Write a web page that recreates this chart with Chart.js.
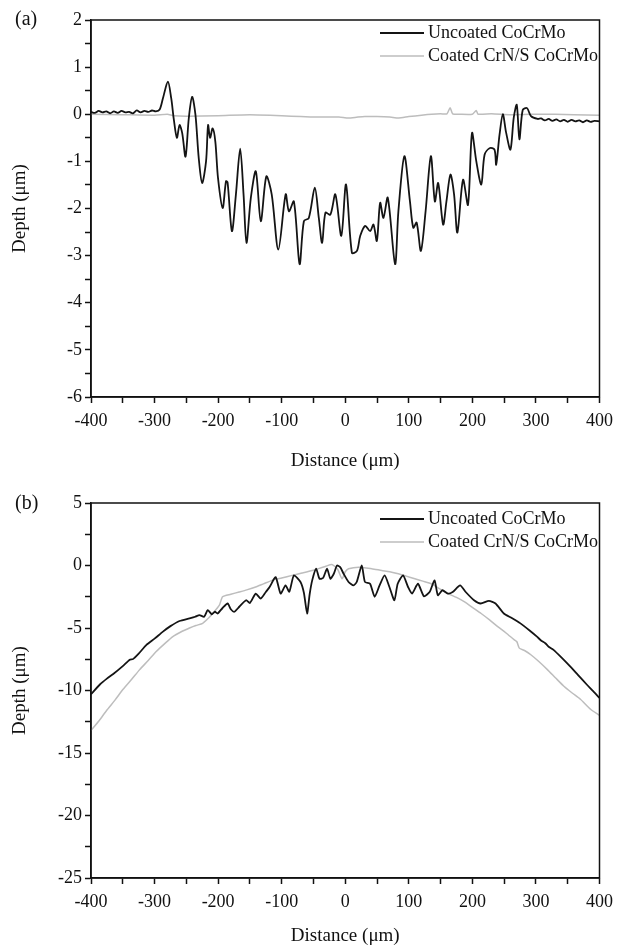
<!DOCTYPE html>
<html>
<head>
<meta charset="utf-8">
<script src="https://cdn.jsdelivr.net/npm/chart.js@4/dist/chart.umd.min.js"></script>
<style>
  body { margin: 0; background: #fff; }
  #wrap { position: relative; width: 620px; height: 947px; }
  canvas { position: absolute; left: 0; }
  .panel { position: absolute; left: 15px; font: 20px "Liberation Serif", serif; color: #111; line-height: 1; }
</style>
</head>
<body>
<div id="wrap">
  <canvas id="chartA" width="620" height="480" style="top:0"></canvas>
  <canvas id="chartB" width="620" height="467" style="top:480px"></canvas>
  <div class="panel" style="top:8px">(a)</div>
  <div class="panel" style="top:492px">(b)</div>
</div>
<script>
// Series labels
const seriesNames = ["Uncoated CoCrMo", "Coated CrN/S CoCrMo"];

// (a) uncoated profile
const aUncoatedX = [-400, -394, -388, -382, -376, -370, -364, -358, -352, -346, -340, -334, -328, -322, -316, -310, -304, -298, -292,
  -286.8, -279, -273.8, -269.6, -264.9, -260.7, -256.5, -251.3, -246.1, -240.9, -235.7, -230.5, -225.2, -219, -215.8, -212.7,
  -208.6, -204.4, -200.2, -192.9, -187.6, -185.1, -178.3, -172, -165.3, -160, -155.4, -148.5, -140.7, -132.9, -124.1, -115.7,
  -105.3, -93.7, -88.6, -80.8, -71.8, -65.1, -57.3, -47.9, -41.6, -36.4, -31.2, -23.4, -15.6, -6.2, 1.2, 10.5, 18.4, 23.6,
  31.4, 39.2, 44.4, 49.7, 54.9, 60.1, 66.9, 78.4, 83.6, 93, 101.8, 107, 112.3, 119, 126.4, 134.7, 141, 146.2, 154, 159.2,
  165.5, 171.2, 176.4, 185.3, 193.1, 199.4, 206.2, 214, 219.2, 227, 234.8, 237.4, 242.7, 247.9, 253.1, 259.9, 265.1, 269.8,
  274, 279.2, 286, 292.2, 302.7, 308, 314, 320, 326, 332, 338, 344, 350, 356, 362, 368, 374, 380, 386, 392, 400];
const aUncoatedY = [0.05, 0.03, 0.07, 0.04, 0.06, 0.02, 0.06, 0.03, 0.07, 0.04, 0.05, 0.02, 0.08, 0.04, 0.07, 0.05, 0.08, 0.06, 0.1,
  0.34, 0.69, 0.34, -0.12, -0.5, -0.23, -0.4, -0.9, -0.08, 0.37, -0.01, -0.93, -1.46, -1.0, -0.23, -0.5,
  -0.3, -0.58, -1.35, -1.99, -1.42, -1.45, -2.48, -1.7, -0.73, -1.7, -2.73, -1.77, -1.21, -2.27, -1.32, -1.7,
  -2.87, -1.7, -2.06, -1.85, -3.18, -2.27, -2.2, -1.56, -2.2, -2.73, -2.09, -2.13, -1.7, -2.58, -1.49, -2.94, -2.9, -2.58,
  -2.37, -2.48, -2.34, -2.69, -1.88, -2.2, -1.77, -3.18, -2.06, -0.89, -1.85, -2.41, -2.3, -2.9, -2.06, -0.89, -1.85, -1.46, -2.34, -1.85,
  -1.28, -1.7, -2.51, -1.39, -1.92, -0.4, -1.0, -1.49, -0.86, -0.72, -0.75, -1.07, -0.44, 0.0, -0.39, -0.75, -0.07, 0.2,
  -0.53, 0.09, 0.13, -0.04, -0.1, -0.09, -0.13, -0.1, -0.14, -0.11, -0.15, -0.12, -0.16, -0.12, -0.15, -0.13, -0.17, -0.13, -0.16, -0.14, -0.15];

// (a) coated profile
const aCoatedX = [-400, -350, -300, -280, -270, -250, -200, -150, -100, -70, -40, -10, 5, 20, 31, 50, 70, 84, 100, 120,
  136, 150, 160, 165, 169, 180, 200, 206, 209, 230, 260, 292, 330, 360, 400];
const aCoatedY = [0.0, -0.01, -0.02, 0.0, -0.03, -0.04, -0.03, -0.01, -0.03, -0.05, -0.06, -0.06, -0.08, -0.06, -0.05, -0.05, -0.06, -0.08, -0.05, -0.02,
  0.0, 0.01, 0.01, 0.14, 0.01, 0.0, 0.0, 0.08, 0.0, 0.01, -0.01, 0.0, 0.0, -0.01, -0.02];

// (b) uncoated profile
const bUncoatedX = [-400, -386, -375, -365, -350, -339, -334, -325, -312.8, -300, -286.8, -275, -260.7, -245, -236, -229.4, -222,
  -216.4, -210, -205, -200.8, -193, -185, -180, -174.5, -166.7, -156, -150, -140.8, -133, -125, -119, -109.5, -101.7, -93.9,
  -88, -80.8, -70.4, -65, -60, -56, -52, -45.8, -40.6, -35, -28.6, -23.4, -18, -13, -8, -2.6, 5.2, 13, 18, 26, 31, 39, 46.3,
  54, 62, 69.5, 77.3, 82.5, 91, 98.8, 105, 114.4, 123.8, 132.7, 140.5, 145.7, 153, 161.4, 169, 180.7, 189.5, 202.6, 213, 226,
  236.4, 249.5, 262, 275.6, 290, 301.6, 308, 314.7, 320, 327.7, 340, 353.8, 366, 379.9, 390, 400];
const bUncoatedY = [-10.3, -9.52, -9.05, -8.68, -8.05, -7.54, -7.49, -7.05, -6.35, -5.85, -5.29, -4.85, -4.44, -4.23, -4.1, -3.97, -4.1,
  -3.57, -3.9, -3.7, -3.84, -3.4, -3.04, -3.5, -3.7, -3.3, -2.78, -3.0, -2.25, -2.65, -2.12, -1.72, -0.93, -2.25, -1.59,
  -2.1, -0.79, -1.32, -2.2, -3.84, -2.3, -1.19, -0.26, -1.06, -1.0, -0.26, -1.06, -0.66, 0.0, -0.13, -0.66, -1.32, -1.59, -1.32, 0.0, -1.32, -1.46, -2.5,
  -1.59, -0.79, -1.72, -2.78, -1.46, -0.79, -1.72, -2.25, -1.46, -2.46, -2.12, -1.19, -2.38, -1.98, -2.25, -2.12, -1.59, -2.12, -2.78, -3.04, -2.83,
  -3.04, -3.84, -4.2, -4.63, -5.2, -5.69, -6.0, -6.22, -6.5, -6.75, -7.35, -8.07, -8.75, -9.52, -10.05, -10.6];

// (b) coated profile
const bCoatedX = [-400, -387, -375.5, -362, -349.5, -336, -323.4, -310, -297.4, -284, -271.3, -258, -245, -235, -224.3, -215,
  -208.6, -198, -193, -180, -167, -155, -141, -128, -115, -100, -83.6, -68, -52, -42, -31.4, -21, -12, -5, 0, 5.2, 21, 41.7,
  57.4, 70, 83.5, 96, 109.5, 122, 135.6, 148, 161.7, 175, 187.8, 200, 213.8, 227, 239.9, 253, 266, 270, 273.8, 282, 292, 305,
  318, 331, 344, 357, 370, 386, 400];
const bCoatedY = [-13.2, -12.4, -11.6, -10.75, -9.9, -9.1, -8.33, -7.6, -6.88, -6.25, -5.69, -5.3, -5.0, -4.8, -4.63, -4.2,
  -3.84, -3.17, -2.5, -2.3, -2.12, -1.95, -1.72, -1.45, -1.19, -1.0, -0.79, -0.6, -0.4, -0.25, -0.08, 0.08, -0.3, -1.06, -0.5, -0.26, -0.13, -0.26,
  -0.4, -0.5, -0.66, -0.85, -1.06, -1.25, -1.46, -1.85, -2.25, -2.55, -2.91, -3.35, -3.84, -4.35, -4.89, -5.4, -5.95, -6.1, -6.61, -6.8, -7.14, -7.7,
  -8.33, -9.0, -9.66, -10.2, -10.7, -11.5, -12.0];

const serif = '"Liberation Serif", "Times New Roman", serif';
const ink = '#111';

function pairs(xs, ys) {
  return xs.map((x, i) => ({ x: x, y: ys[i] }));
}

// box frame + legend inside the plot
const frameLegend = {
  id: 'frameLegend',
  afterDraw(chart, args, opts) {
    const { ctx, chartArea: a } = chart;
    ctx.save();
    ctx.strokeStyle = ink;
    ctx.lineWidth = 1.5;
    ctx.strokeRect(a.left, a.top, a.right - a.left, a.bottom - a.top);
    ctx.font = '18px ' + serif;
    ctx.textBaseline = 'middle';
    chart.data.datasets.forEach((ds, i) => {
      const y = a.top + opts.top + i * opts.gap;
      ctx.strokeStyle = ds.borderColor;
      ctx.lineWidth = ds.borderWidth;
      ctx.beginPath();
      ctx.moveTo(opts.x, y);
      ctx.lineTo(opts.x + 44, y);
      ctx.stroke();
      ctx.fillStyle = ink;
      ctx.fillText(ds.label, opts.x + 48, y);
    });
    ctx.restore();
  }
};

function makeChart(id, o) {
  return new Chart(document.getElementById(id), {
    type: 'line',
    data: {
      datasets: [
        { label: seriesNames[0], data: pairs(o.ux, o.uy), borderColor: '#141414', borderWidth: 1.8, pointRadius: 0, tension: o.tension },
        { label: seriesNames[1], data: pairs(o.cx, o.cy), borderColor: '#bdbdbd', borderWidth: 1.5, pointRadius: 0, tension: 0.2 }
      ]
    },
    options: {
      responsive: false,
      animation: false,
      devicePixelRatio: 1,
      layout: { padding: { top: o.padTop, right: 18, left: 0, bottom: 0 } },
      plugins: {
        legend: { display: false },
        tooltip: { enabled: false },
        frameLegend: { x: 380, top: o.legTop, gap: 23 }
      },
      scales: {
        x: {
          type: 'linear', min: -400, max: 400,
          afterFit: (s) => { s.height = o.xHeight; },
          border: { display: true, color: ink, width: 1.5 },
          grid: { drawOnChartArea: false, drawTicks: true, tickLength: 6, color: ink, tickWidth: 1.5 },
          ticks: {
            stepSize: 50, autoSkip: false, maxRotation: 0, padding: 7, color: ink,
            font: { family: serif, size: 18 },
            callback: (v) => (v % 100 === 0 ? String(v) : '')
          },
          title: { display: true, text: 'Distance (μm)', color: ink, font: { family: serif, size: 19, lineHeight: 1 }, padding: { top: 0, bottom: o.xTitlePad } }
        },
        y: {
          min: o.ymin, max: o.ymax,
          afterFit: (s) => { s.width = 91; },
          border: { display: true, color: ink, width: 1.5 },
          grid: { drawOnChartArea: false, drawTicks: true, tickLength: 6, color: ink, tickWidth: 1.5 },
          ticks: {
            stepSize: o.minor, autoSkip: false, padding: 3, color: ink,
            font: { family: serif, size: 18 },
            callback: (v) => (Math.abs(v % o.major) < 1e-9 ? String(v) : '')
          },
          title: { display: true, text: 'Depth (μm)', color: ink, font: { family: serif, size: 19, lineHeight: 1 }, padding: { top: 11, bottom: 0 } }
        }
      }
    },
    plugins: [frameLegend]
  });
}

makeChart('chartA', {
  ux: aUncoatedX, uy: aUncoatedY, cx: aCoatedX, cy: aCoatedY,
  ymin: -6, ymax: 2, minor: 0.5, major: 1, tension: 0.3,
  padTop: 20, xHeight: 83, xTitlePad: 9, legTop: 13
});

makeChart('chartB', {
  ux: bUncoatedX, uy: bUncoatedY, cx: bCoatedX, cy: bCoatedY,
  ymin: -25, ymax: 5, minor: 2.5, major: 5, tension: 0.2,
  padTop: 23, xHeight: 69, xTitlePad: 1, legTop: 16
});
</script>
</body>
</html>
